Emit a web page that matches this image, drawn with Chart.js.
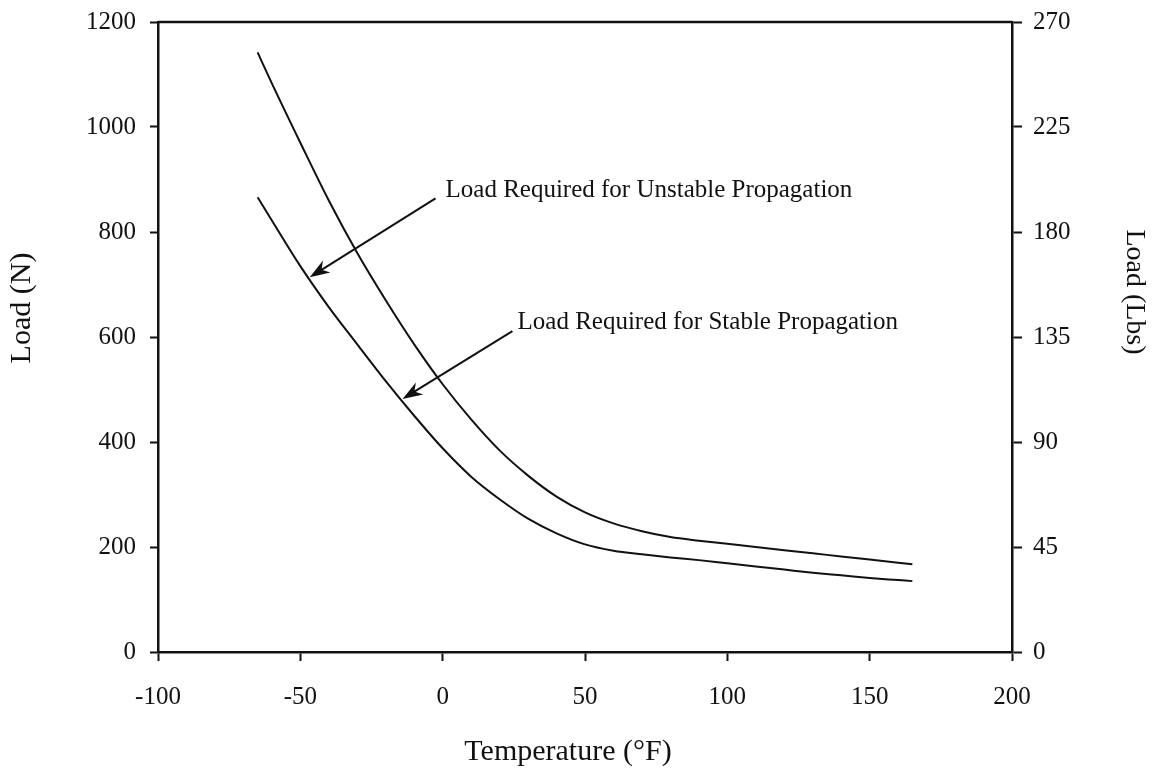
<!DOCTYPE html>
<html>
<head>
<meta charset="utf-8">
<script src="https://cdn.jsdelivr.net/npm/chart.js@4.4.1/dist/chart.umd.min.js"></script>
<style>
  html, body { margin: 0; padding: 0; background: #fff; }
  #wrap { width: 1158px; height: 774px; position: relative; }
</style>
</head>
<body>
<div id="wrap"><canvas id="loadChart"></canvas></div>
<script>
// temperature (F) and load (N)
const temps = [-65, -60, -50, -40, -30, -20, -10, 0, 10, 20, 30, 40, 50, 60, 70, 80, 90, 100, 110, 120, 130, 140, 150, 160, 165];
const unstableLoad = [1142, 1083, 970, 860, 760, 670, 586, 510, 443, 384, 336, 296, 266, 245, 230, 219, 212, 206, 200, 194, 188, 182, 176, 170, 167];
const stableLoad = [866, 822, 735, 657, 586, 516, 450, 388, 334, 291, 254, 226, 205, 193, 186, 180, 175, 169, 163, 157, 151, 146, 141, 137, 135];

const xTicks = [-100, -50, 0, 50, 100, 150, 200];
const newtonTicks = [0, 200, 400, 600, 800, 1000, 1200];
const lbsTicks = [0, 45, 90, 135, 180, 225, 270];

// callouts: text anchor and arrow tail/tip, in data units
const callouts = [
  { text: 'Load Required for Unstable Propagation', tx: 1.0, ty: 880, from: [-2.5, 864], to: [-46.7, 714] },
  { text: 'Load Required for Stable Propagation', tx: 26.3, ty: 628, from: [24.5, 611], to: [-14.1, 482] }
];

const ink = '#111';
const serif = "'Liberation Serif', 'Times New Roman', serif";
Chart.defaults.font.family = serif;
Chart.defaults.color = ink;

function toPoints(xs, ys) {
  return xs.map((x, i) => ({ x: x, y: ys[i] }));
}

// axis titles drawn by hand so they sit where the original puts them
function drawTitle(ctx, text, x, y, rot, size) {
  ctx.save();
  ctx.translate(x, y);
  ctx.rotate(rot);
  ctx.font = size + 'px ' + serif;
  ctx.textAlign = 'center';
  ctx.textBaseline = 'middle';
  ctx.fillText(text, 0, 0);
  ctx.restore();
}

const calloutPlugin = {
  id: 'callouts',
  afterDraw(chart) {
    const { ctx, chartArea, scales } = chart;
    const xs = scales.x, ys = scales.y;
    ctx.save();
    // top edge of the frame
    ctx.strokeStyle = ink;
    ctx.lineWidth = 2.5;
    ctx.beginPath();
    ctx.moveTo(chartArea.left, chartArea.top);
    ctx.lineTo(chartArea.right, chartArea.top);
    ctx.stroke();

    ctx.fillStyle = ink;
    drawTitle(ctx, 'Temperature (°F)', 568, 752, 0, 30);
    drawTitle(ctx, 'Load (N)', 22, 308, -Math.PI / 2, 30);
    drawTitle(ctx, 'Load (Lbs)', 1134, 292, Math.PI / 2, 28);

    ctx.font = '25px ' + serif;
    ctx.textBaseline = 'middle';
    ctx.textAlign = 'left';
    callouts.forEach(c => {
      ctx.fillText(c.text, xs.getPixelForValue(c.tx), ys.getPixelForValue(c.ty));
      const x0 = xs.getPixelForValue(c.from[0]), y0 = ys.getPixelForValue(c.from[1]);
      const x1 = xs.getPixelForValue(c.to[0]), y1 = ys.getPixelForValue(c.to[1]);
      const ang = Math.atan2(y1 - y0, x1 - x0);
      const len = 20, half = 7;
      ctx.lineWidth = 2;
      ctx.beginPath();
      ctx.moveTo(x0, y0);
      ctx.lineTo(x1 - Math.cos(ang) * 12, y1 - Math.sin(ang) * 12);
      ctx.stroke();
      // barbed arrow head
      ctx.beginPath();
      ctx.moveTo(x1, y1);
      ctx.lineTo(x1 - Math.cos(ang) * len - Math.sin(ang) * half, y1 - Math.sin(ang) * len + Math.cos(ang) * half);
      ctx.lineTo(x1 - Math.cos(ang) * 14, y1 - Math.sin(ang) * 14);
      ctx.lineTo(x1 - Math.cos(ang) * len + Math.sin(ang) * half, y1 - Math.sin(ang) * len - Math.cos(ang) * half);
      ctx.closePath();
      ctx.fill();
    });
    ctx.restore();
  }
};

const plainLabel = v => String(v);
// fixed box sizes; drop the label overhang padding so the frame lands where the original has it
const fixWidth = w => s => { s.width = w; s.paddingTop = 0; s.paddingBottom = 0; };

const ctx = document.getElementById('loadChart').getContext('2d');
const chart = new Chart(ctx, {
  type: 'scatter',
  data: {
    datasets: [
      {
        label: 'Unstable Propagation',
        data: toPoints(temps, unstableLoad),
        showLine: true,
        borderColor: ink,
        borderWidth: 2,
        pointRadius: 0,
        cubicInterpolationMode: 'monotone',
        yAxisID: 'y'
      },
      {
        label: 'Stable Propagation',
        data: toPoints(temps, stableLoad),
        showLine: true,
        borderColor: ink,
        borderWidth: 2,
        pointRadius: 0,
        cubicInterpolationMode: 'monotone',
        yAxisID: 'y'
      }
    ]
  },
  options: {
    responsive: true,
    maintainAspectRatio: false,
    animation: false,
    layout: { padding: { top: 22, left: 0, right: 0, bottom: 0 } },
    plugins: {
      legend: { display: false },
      tooltip: { enabled: false }
    },
    scales: {
      x: {
        type: 'linear',
        position: 'bottom',
        min: -100,
        max: 200,
        afterBuildTicks: s => { s.ticks = xTicks.map(v => ({ value: v })); },
        afterFit: s => { s.height = 122; s.paddingLeft = 0; s.paddingRight = 0; },
        ticks: { font: { size: 25 }, padding: 21, maxRotation: 0, callback: plainLabel },
        grid: { display: true, drawOnChartArea: false, drawTicks: true, tickLength: 9, tickWidth: 2, color: ink },
        border: { display: true, color: ink, width: 2.5 }
      },
      y: {
        type: 'linear',
        position: 'left',
        min: 0,
        max: 1200,
        afterBuildTicks: s => { s.ticks = newtonTicks.map(v => ({ value: v })); },
        afterFit: fixWidth(158),
        ticks: { font: { size: 25 }, padding: 14, callback: plainLabel },
        grid: { display: true, drawOnChartArea: false, drawTicks: true, tickLength: 8, tickWidth: 2, color: ink },
        border: { display: true, color: ink, width: 2.5 }
      },
      y2: {
        type: 'linear',
        position: 'right',
        min: 0,
        max: 270,
        afterBuildTicks: s => { s.ticks = lbsTicks.map(v => ({ value: v })); },
        afterFit: fixWidth(146),
        ticks: { font: { size: 25 }, padding: 11, callback: plainLabel },
        grid: { display: true, drawOnChartArea: false, drawTicks: true, tickLength: 10, tickWidth: 2, color: ink },
        border: { display: true, color: ink, width: 2.5 }
      }
    }
  },
  plugins: [calloutPlugin]
});
</script>
</body>
</html>
